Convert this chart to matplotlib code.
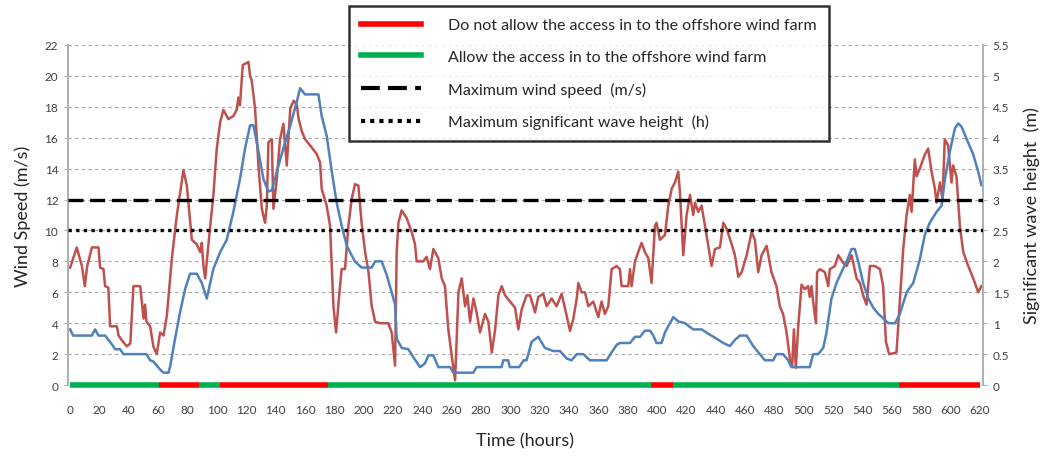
import matplotlib
matplotlib.use("Agg")
import matplotlib.pyplot as plt
from matplotlib.lines import Line2D

plt.rcParams['font.family'] = ['Lato', 'DejaVu Sans']

# Wind speed (m/s)
wind_hours = [0, 4.5, 8, 10, 11.6, 14.8, 19.3, 20.4, 22.7, 23.8, 26, 27.2, 31.8, 33, 35.2, 38.6, 41,
              43.1, 47.7, 50, 51, 52, 54.5, 56.7, 59, 61.3, 63.6, 65.9, 69.3, 72.7, 77.2, 79.5, 82.9,
              86.3, 88.6, 89.7, 90.8, 92, 94.2, 97.6, 99.9, 102.2, 104.4, 107.8, 111.2, 113.5, 114.6,
              115.7, 117.6, 121.5, 122.6, 123.7, 126, 128.3, 130.6, 132.8, 134, 135.1, 137.4, 138.5,
              140.8, 143, 145.3, 147.6, 150, 152.3, 154.5, 155.7, 157.9, 160.1, 163.5, 168, 170.3,
              171.4, 174.8, 177.1, 179.4, 181.2, 183.5, 185, 187.3, 189.6, 191.8, 194.1, 196.4, 198.6,
              201, 203.3, 205.5, 207.8, 211.2, 216.8, 219.1, 221.4, 222.5, 223.7, 225.9, 229.3, 232.7,
              235, 236.1, 240.6, 242.9, 245.2, 247.5, 250.9, 253.2, 255.4, 257.7, 260, 262.3, 264.6,
              266.8, 269.1, 270.7, 272.5, 274.8, 277, 279.3, 282.7, 285, 287.3, 289.6, 291.8, 294.1,
              296.4, 299.8, 303.2, 305.4, 307.7, 311, 313.4, 316.8, 319, 322.4, 324.7, 328.1, 331.5,
              334.9, 338.3, 340.6, 342.9, 345.2, 346.3, 348.5, 350.8, 353.1, 356.5, 359.9, 362.1, 364.4,
              366.7, 369, 372.4, 374.6, 375.8, 380.3, 381.5, 382.6, 384.9, 387.1, 389.4, 391.7, 394,
              396.2, 398.5, 399.6, 401.9, 405.3, 407.6, 409.9, 412.1, 414.4, 415.5, 417.8, 420.1,
              422.4, 424.6, 425.8, 428, 430.3, 432.6, 437.1, 439.4, 442.8, 445.1, 447.4, 450.8, 453,
              455.3, 457.6, 461, 464.4, 466.6, 468.9, 471.2, 474.6, 477.9, 481.3, 483.6, 485.8, 488.2,
              490.5, 492, 493.2, 494.5, 496, 498.4, 500.6, 502.9, 504, 505.2, 506.3, 508.2, 509, 510.9,
              514.3, 516.6, 517.7, 521.1, 523.4, 526.8, 529.1, 532.5, 535.9, 538.2, 540.4, 542.7, 545,
              548.4, 551.8, 554, 555.9, 558.1, 563.1, 565.4, 567.7, 570, 572.2, 573.4, 575.6, 576.8,
              579, 582.4, 584.7, 587, 589.3, 590.4, 592.7, 594.5, 596, 598.3, 600.6, 601.7, 604,
              606.3, 608.6, 612, 615.4, 618.8, 621]
wind_speed = [7.6, 8.9, 7.7, 6.4, 7.7, 8.9, 8.9, 7.6, 7.5, 6.4, 6.3, 3.8, 3.8, 3.2, 2.9, 2.5, 2.7,
              6.4, 6.4, 4.3, 5.2, 4.1, 3.8, 2.5, 2.0, 3.4, 3.2, 4.5, 8.2, 11.0, 13.9, 12.9, 9.4,
              9.1, 8.6, 9.2, 7.7, 6.9, 9.1, 12.3, 15.3, 17.0, 17.8, 17.2, 17.4, 17.8, 18.6,
              18.1, 20.7, 20.9, 20.0, 19.7, 17.9, 14.2, 11.4, 10.5, 11.6, 15.7, 15.9, 11.4,
              13.3, 15.9, 16.9, 14.2, 17.9, 18.4, 18.1, 17.2, 16.4, 15.9, 15.5, 14.95, 14.4,
              12.7, 11.6, 10.3, 5.1, 3.4, 6.0, 7.5, 7.5, 10.3, 12.0, 13.0, 12.9, 10.5,
              8.6, 7.3, 5.1, 4.1, 4.0, 4.0, 3.4, 1.25, 8.6, 10.5, 11.3, 10.8, 9.9,
              9.1, 8.0, 8.0, 8.3, 7.5, 8.8, 8.2, 6.9, 6.4, 3.6, 1.9, 0.3, 6.0,
              6.9, 5.1, 5.8, 4.1, 5.6, 4.7, 3.4, 4.6, 4.1, 2.1, 3.6, 5.8, 6.4,
              5.8, 5.4, 5.0, 3.6, 4.9, 5.8, 5.8, 4.7, 5.7, 5.9, 5.1, 5.6, 5.1,
              5.9, 4.5, 3.5, 4.3, 5.6, 6.6, 6.0, 6.0, 5.1, 5.4, 4.4, 5.4, 4.6,
              5.1, 7.5, 7.7, 7.5, 6.4, 6.4, 7.5, 6.4, 8.0, 8.6, 9.2, 8.6, 8.2,
              6.6, 10.3, 10.5, 9.4, 9.7, 11.6, 12.7, 13.1, 13.8, 12.5, 8.4, 11.0,
              12.3, 11.0, 11.8, 11.2, 11.6, 10.3, 7.7, 8.8, 8.9, 10.5, 10.1, 9.1, 8.4,
              7.0, 7.3, 8.4, 9.9, 9.4, 7.3, 8.4, 9.0, 7.3, 6.4, 5.1, 4.6, 3.4,
              1.7, 1.2, 3.6, 1.1, 3.6, 6.5, 6.2, 6.4, 5.7, 6.4, 5.4, 4.0, 7.3, 7.5,
              7.3, 6.4, 7.5, 7.7, 8.4, 7.9, 7.7, 8.4, 6.9, 6.6, 5.8, 5.2, 7.7,
              7.7, 7.5, 6.4, 2.8, 2.0, 2.1, 5.4, 8.8, 11.0, 12.3, 11.2, 14.6, 13.5,
              14.0, 14.9, 15.3, 13.8, 12.7, 11.8, 13.1, 12.0, 15.9, 15.5, 13.1, 14.2, 13.5,
              10.3, 8.6, 7.7, 6.9, 6.0, 6.4]

# Significant wave height (m)
wave_hours = [0, 2, 14.8, 17, 19.3, 23.8, 28.4, 30.6, 34, 36.3, 52, 54.5, 56.7, 61.3, 63.6, 67, 68.1,
              71.5, 74.9, 78.3, 81.7, 86.3, 89.7, 93.1, 97.6, 102.2, 106.7, 111.2, 115.7, 119.2,
              122.6, 124.9, 128.3, 131.7, 135.1, 137.4, 140.8, 145.3, 150, 154.4, 156.7, 160, 169.2,
              171.4, 174.8, 178.3, 181.6, 185, 188.5, 194, 198.6, 205.5, 207.8, 212.3, 215.7, 219.1,
              221.4, 222.5, 225.9, 230.4, 233.9, 238.4, 241.8, 244.1, 247.5, 250.9, 258.9, 261.1,
              274.7, 277, 294, 295.1, 298.5, 299.6, 306, 309, 311, 314.5, 319, 323.5, 329.2, 333.8,
              338.3, 341.7, 345.2, 349.7, 354.2, 365.6, 369, 372.4, 374.6, 381.5, 384.9, 388.3,
              391.7, 395.1, 397.4, 399.6, 403, 405.3, 407.6, 411, 414.4, 418.9, 424.6, 430.3, 434.8,
              440.5, 445.1, 449.6, 453, 456.4, 461, 465.5, 470, 473.4, 479.1, 481.3, 485.8, 489.3,
              491.5, 504, 506.3, 509.7, 513.2, 515.4, 518.8, 522.2, 525.7, 529.1, 532.5, 534.7, 537,
              540.4, 543.9, 547.3, 550.7, 554.1, 557.5, 562.1, 565.4, 570, 574.5, 579, 582.4, 585.9,
              590.4, 593.8, 596.1, 599.5, 602.9, 605.2, 607.4, 610.9, 615.4, 618.8, 621]
wave_height = [0.9, 0.8, 0.8, 0.9, 0.8, 0.8, 0.66, 0.58, 0.58, 0.5, 0.5, 0.4, 0.38, 0.25, 0.2, 0.2, 0.3,
               0.75, 1.18, 1.55, 1.8, 1.8, 1.65, 1.4, 1.88, 2.15, 2.35, 2.8, 3.33, 3.83,
               4.2, 4.2, 3.78, 3.33, 3.13, 3.15, 3.45, 3.83, 4.2, 4.58, 4.8, 4.7, 4.7,
               4.35, 4.03, 3.45, 2.95, 2.58, 2.25, 2.0, 1.9, 1.9, 2.0, 2.0, 1.78, 1.5,
               1.3, 0.75, 0.6, 0.58, 0.45, 0.29, 0.35, 0.48, 0.48, 0.29, 0.29, 0.2,
               0.2, 0.29, 0.29, 0.4, 0.4, 0.29, 0.29, 0.4, 0.4, 0.7, 0.78, 0.6, 0.55, 0.55,
               0.43, 0.4, 0.5, 0.5, 0.4, 0.4, 0.53, 0.65, 0.68, 0.68, 0.78, 0.78,
               0.88, 0.88, 0.8, 0.68, 0.68, 0.85, 0.95, 1.1, 1.03, 1.0, 0.9, 0.9, 0.83,
               0.75, 0.68, 0.63, 0.73, 0.8, 0.8, 0.63, 0.5, 0.4, 0.4, 0.5, 0.5, 0.4,
               0.29, 0.29, 0.5, 0.5, 0.6, 0.85, 1.4, 1.65, 1.83, 2.0, 2.2, 2.2, 2.0,
               1.65, 1.4, 1.25, 1.15, 1.08, 1.0, 1.0, 1.15, 1.5, 1.65, 2.03, 2.43, 2.63,
               2.8, 2.9, 3.33, 3.78, 4.15, 4.23, 4.18, 3.98, 3.73, 3.45, 3.23]

# Access windows: start hour, end hour, allowed?
access_start = [0, 60.5, 87.5, 102, 176, 395.5, 411, 565]
access_end = [60.5, 87.5, 102, 176, 395.5, 411, 565, 620]
access_allowed = [True, False, True, False, True, False, True, False]

max_wind_speed = 12
max_wave_height = 2.5

left_ticks = list(range(0, 23, 2))
right_ticks = [0, 0.5, 1, 1.5, 2, 2.5, 3, 3.5, 4, 4.5, 5, 5.5]
time_ticks = list(range(0, 621, 20))

fig = plt.figure(figsize=(10.49, 4.64), dpi=100)
ax = fig.add_axes([0.0648, 0.168, 0.8722, 0.733])
ax2 = ax.twinx()

tick_col = '#404040'
axis_col = '#b0b0b0'

ax.plot(wind_hours, wind_speed, color='#c0504d', lw=1.8, zorder=3)
ax2.plot(wave_hours, wave_height, color='#4f81bd', lw=1.8, zorder=2)
ax2.axhline(max_wind_speed / 4, color='black', lw=2.4, ls=(0, (4.5, 2)), zorder=4)
ax2.axhline(max_wave_height, color='black', lw=2.4, ls=(0, (1, 1.3)), zorder=4)

for s, e, ok in zip(access_start, access_end, access_allowed):
    ax2.plot([s, e], [0, 0], color='#00b050' if ok else '#ff0000', lw=4,
             solid_capstyle='butt', clip_on=False, zorder=5)

ax.set_xlim(-1.5, 622)
ax.set_ylim(0, 22)
ax2.set_ylim(0, 5.5)
ax.set_yticks(left_ticks)
ax.set_xticks(time_ticks)
ax2.set_yticks(right_ticks)
ax2.set_yticklabels([f'{v:g}' for v in right_ticks])

ax.grid(axis='y', color='#a6a6a6', ls=(0, (3, 3)), lw=0.8)
ax.set_axisbelow(True)

for a in (ax, ax2):
    for side in ('top', 'bottom'):
        a.spines[side].set_visible(False)
    a.spines['left'].set_color(axis_col)
    a.spines['right'].set_color(axis_col)
    a.spines['left'].set_linewidth(1.3)
    a.spines['right'].set_linewidth(1.3)

ax.tick_params(axis='y', length=3, color=axis_col, labelsize=8.5, labelcolor=tick_col, pad=4)
ax2.tick_params(axis='y', length=3, color=axis_col, labelsize=8.5, labelcolor=tick_col, pad=4)
ax.tick_params(axis='x', length=0, labelsize=8.5, labelcolor=tick_col, pad=14)

ax.set_ylabel('Wind Speed (m/s)', fontsize=13, color='#262626', labelpad=10)
ax2.set_ylabel('Significant wave height  (m)', fontsize=13, color='#262626', labelpad=10)
ax.set_xlabel('Time (hours)', fontsize=13, color='#262626', labelpad=12)

handles = [
    Line2D([], [], color='#ff0000', lw=4),
    Line2D([], [], color='#00b050', lw=4),
    Line2D([], [], color='black', lw=3, ls=(0, (4.5, 2))),
    Line2D([], [], color='black', lw=3, ls=(0, (1, 1.2))),
]
labels = ['Do not allow the access in to the offshore wind farm',
          'Allow the access in to the offshore wind farm',
          'Maximum wind speed  (m/s)',
          'Maximum significant wave height  (h)']
leg = fig.legend(handles, labels, loc='upper left', bbox_to_anchor=(349 / 1049, 1 - 7 / 464),
                 fontsize=11.5, frameon=True, fancybox=False, handlelength=3.75,
                 handletextpad=1.7, labelspacing=1.1, borderpad=0.75, borderaxespad=0)
leg.get_frame().set_edgecolor('black')
leg.get_frame().set_linewidth(1.8)
for t in leg.get_texts():
    t.set_color('#262626')

fig.savefig('out.png', dpi=100)
